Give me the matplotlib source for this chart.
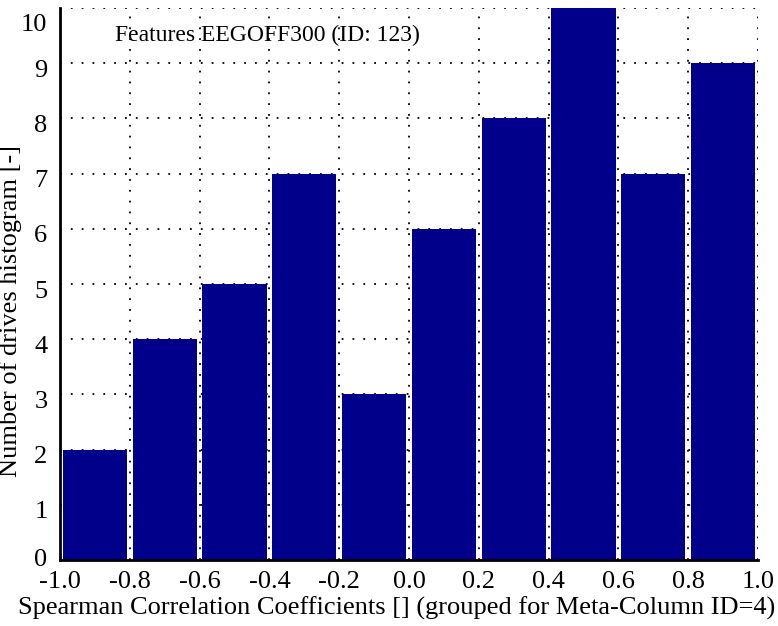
import numpy as np
import matplotlib.pyplot as plt
import matplotlib.transforms as mtransforms

plt.rcParams['font.family'] = ['Liberation Serif', 'DejaVu Serif']

# histogram of Spearman coefficients, 10 bins on [-1, 1]
bin_edges = [-1.0, -0.8, -0.6, -0.4, -0.2, 0.0, 0.2, 0.4, 0.6, 0.8, 1.0]
counts = [2, 4, 5, 7, 3, 6, 8, 10, 7, 9]
xtick_labels = ['-1.0', '-0.8', '-0.6', '-0.4', '-0.2', '0.0', '0.2', '0.4', '0.6', '0.8', '1.0']

edges = np.array(bin_edges)
centers = (edges[:-1] + edges[1:]) / 2
width = 0.92 * (edges[1] - edges[0])

fig = plt.figure(figsize=(7.78, 6.26), dpi=100)
ax = fig.add_axes([0.0771, 0.1054, 0.8972, 0.8818])

ax.bar(centers, counts, width=width, color='#00008b', edgecolor='none', zorder=2)

ax.set_xlim(-1.0, 1.0)
ax.set_ylim(0, 10)
ax.set_xticks(edges)
ax.set_xticklabels(xtick_labels)
ax.set_yticks(range(0, 11))
ax.tick_params(length=0, labelsize=19)
ax.tick_params(axis='x', pad=8)
ax.tick_params(axis='y', pad=9)

# y labels sit a little below their ticks, the top one more so
for i, lbl in enumerate(ax.get_yticklabels()):
    dy = {0: 3, 10: -14}.get(i, -5)
    lbl.set_transform(lbl.get_transform() + mtransforms.ScaledTranslation(0, dy / 100, fig.dpi_scale_trans))

ax.grid(True, color='black', linestyle=(0, (1, 5)), linewidth=1.3, zorder=1)
ax.set_axisbelow(True)

for side in ['top', 'right']:
    ax.spines[side].set_visible(False)
for side in ['left', 'bottom']:
    ax.spines[side].set_linewidth(2)

ax.set_xlabel('Spearman Correlation Coefficients [] (grouped for Meta-Column ID=4)', fontsize=19)
ax.xaxis.set_label_coords(0.482, -0.087)
ax.xaxis.label.set_verticalalignment('center')
ax.set_ylabel('Number of drives histogram [-]', fontsize=19)
ax.yaxis.set_label_coords(-0.071, 0.451)
ax.yaxis.label.set_verticalalignment('center')
ax.text(0.079, 0.95, 'Features EEGOFF300 (ID: 123)', transform=ax.transAxes, fontsize=17, va='center', ha='left')

fig.savefig('out.png', dpi=100)
